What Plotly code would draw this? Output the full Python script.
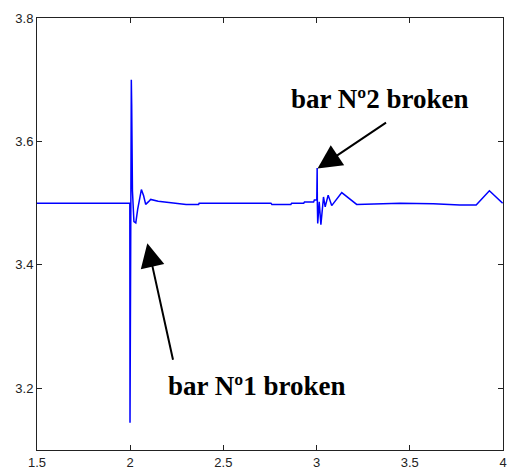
import plotly.graph_objects as go

# Time (s) and signal values
t = [1.500, 1.998, 1.999, 2.000, 2.002, 2.006, 2.008, 2.009, 2.012, 2.020,
     2.030, 2.040, 2.060, 2.072, 2.083, 2.097, 2.110, 2.150, 2.207, 2.300,
     2.367, 2.370, 2.755, 2.760, 2.862, 2.866, 2.931, 2.935, 2.984, 2.988,
     3.001, 3.003, 3.004, 3.006, 3.014, 3.023, 3.037, 3.046, 3.062, 3.081,
     3.135, 3.215, 3.307, 3.448, 3.626, 3.768, 3.856, 3.927, 3.998]
v = [3.500, 3.500, 3.144, 3.240, 3.520, 3.700, 3.660, 3.640, 3.520, 3.470,
     3.468, 3.490, 3.522, 3.512, 3.498, 3.502, 3.506, 3.503, 3.501, 3.498,
     3.498, 3.500, 3.500, 3.498, 3.498, 3.500, 3.500, 3.502, 3.502, 3.505,
     3.505, 3.557, 3.500, 3.467, 3.502, 3.465, 3.510, 3.494, 3.513, 3.496,
     3.517, 3.498, 3.499, 3.500, 3.499, 3.497, 3.497, 3.520, 3.500]

x_ticks = [1.5, 2, 2.5, 3, 3.5, 4]
x_labels = ["1.5", "2", "2.5", "3", "3.5", "4"]
y_ticks = [3.2, 3.4, 3.6, 3.8]
y_labels = ["3.2", "3.4", "3.6", "3.8"]

fig = go.Figure()
fig.add_trace(go.Scatter(x=t, y=v, mode="lines",
                         line=dict(color="#0000FF", width=1.5),
                         showlegend=False, hoverinfo="skip"))

ann_font = dict(family="Liberation Serif, Times New Roman, serif", size=27, color="black")
fig.add_annotation(x=3.335, y=3.669, text="<b>bar Nº2 broken</b>", showarrow=False,
                   font=ann_font, xanchor="center", yanchor="middle")
fig.add_annotation(x=2.678, y=3.204, text="<b>bar Nº1 broken</b>", showarrow=False,
                   font=ann_font, xanchor="center", yanchor="middle")
# arrows
fig.add_annotation(x=2.092, y=3.435, text="", showarrow=True, arrowhead=2,
                   arrowsize=2.4, arrowwidth=2, arrowcolor="black", ax=26, ay=118)
fig.add_annotation(x=3.005, y=3.556, text="", showarrow=True, arrowhead=2,
                   arrowsize=2.4, arrowwidth=2, arrowcolor="black", ax=70, ay=-47)

axis_common = dict(showgrid=False, zeroline=False, showline=True, linecolor="#222",
                   linewidth=1, mirror="ticks", ticks="inside", ticklen=5,
                   tickcolor="#222",
                   tickfont=dict(family="Liberation Sans, Arial, sans-serif", size=13, color="#222"))
fig.update_xaxes(range=[1.5, 4], tickvals=x_ticks, ticktext=x_labels, **axis_common)
fig.update_yaxes(range=[3.1, 3.8], tickvals=y_ticks, ticktext=y_labels, **axis_common)

fig.update_layout(width=511, height=474,
                  margin=dict(l=37, r=4, t=18, b=24),
                  plot_bgcolor="white", paper_bgcolor="white")

fig.write_html("out.html")
